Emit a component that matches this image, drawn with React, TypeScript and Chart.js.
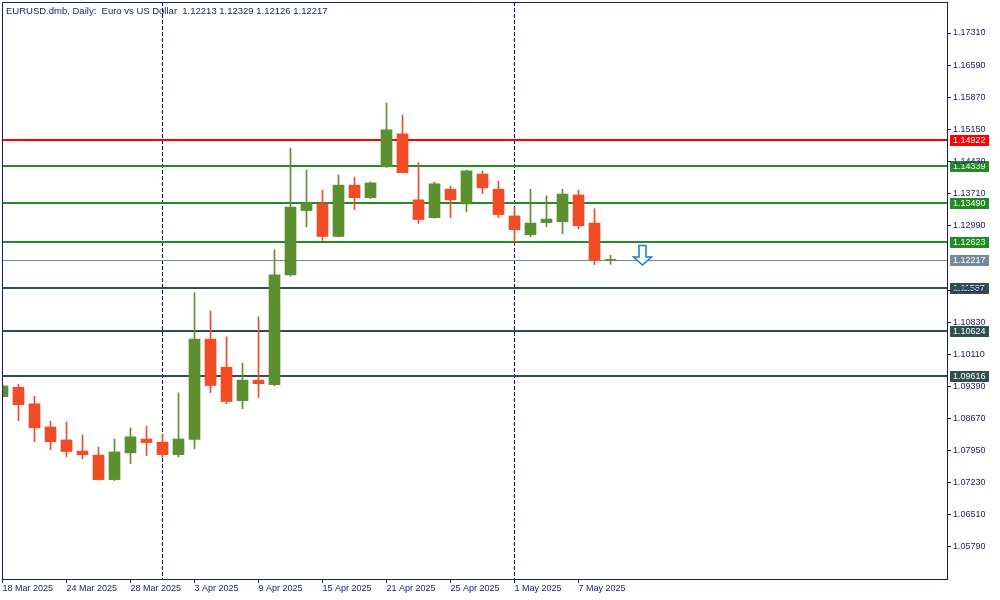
import React, { useEffect, useRef } from 'react';
import { Chart, registerables } from 'chart.js';

Chart.register(...registerables);

// ---- data ----
const titleText = 'EURUSD.dmb, Daily:  Euro vs US Dollar  1.12213 1.12329 1.12126 1.12217';

const dateLabels = ['18 Mar 2025', '24 Mar 2025', '28 Mar 2025', '3 Apr 2025', '9 Apr 2025', '15 Apr 2025', '21 Apr 2025', '25 Apr 2025', '1 May 2025', '7 May 2025'];
const dateLabelIndex = [0, 4, 8, 12, 16, 20, 24, 28, 32, 36];

const opens = [1.0916, 1.0937, 1.0900, 1.0848, 1.0819, 1.0794, 1.0785, 1.0730, 1.0790, 1.0821, 1.0814, 1.0786, 1.0820, 1.1045, 1.0982, 1.0907, 1.0953, 1.0943, 1.1189, 1.1333, 1.1348, 1.1275, 1.1390, 1.1362, 1.1431, 1.1505, 1.1357, 1.1317, 1.1381, 1.1348, 1.1415, 1.1381, 1.1321, 1.1279, 1.1306, 1.1308, 1.1368, 1.1305, 1.12213];
const highs = [1.0942, 1.0944, 1.0917, 1.0861, 1.0859, 1.0830, 1.0803, 1.0821, 1.0846, 1.0850, 1.0832, 1.0924, 1.1149, 1.1108, 1.1050, 1.0991, 1.1095, 1.1245, 1.1473, 1.1424, 1.1379, 1.1413, 1.1408, 1.1397, 1.1574, 1.1547, 1.1440, 1.1397, 1.1388, 1.1424, 1.1422, 1.1399, 1.1341, 1.1381, 1.1366, 1.1381, 1.1379, 1.1337, 1.12329];
const lows = [1.0914, 1.0862, 1.0815, 1.0797, 1.0781, 1.0777, 1.0729, 1.0728, 1.0766, 1.0784, 1.0780, 1.0781, 1.0799, 1.0925, 1.0900, 1.0889, 1.0914, 1.0940, 1.1186, 1.1297, 1.1266, 1.1274, 1.1335, 1.1360, 1.1430, 1.1417, 1.1304, 1.1316, 1.1317, 1.1330, 1.1371, 1.1317, 1.1263, 1.1274, 1.1297, 1.1281, 1.1292, 1.1212, 1.12126];
const closes = [1.0940, 1.0898, 1.0846, 1.0815, 1.0793, 1.0786, 1.0730, 1.0792, 1.0826, 1.0813, 1.0786, 1.0821, 1.1045, 1.0941, 1.0905, 1.0953, 1.0945, 1.1189, 1.1341, 1.1350, 1.1275, 1.1390, 1.1362, 1.1395, 1.1514, 1.1418, 1.1313, 1.1393, 1.1357, 1.1422, 1.1384, 1.1324, 1.1290, 1.1305, 1.1314, 1.1370, 1.1299, 1.1222, 1.12217];

const yTickValues = [1.05790, 1.06510, 1.07230, 1.07950, 1.08670, 1.09390, 1.10110, 1.10830, 1.11550, 1.12990, 1.13710, 1.14430, 1.15150, 1.15870, 1.16590, 1.17310];

const levelPrices = [1.14922, 1.14339, 1.13490, 1.12623, 1.12217, 1.11587, 1.10624, 1.09616];
const levelColors = ['#FF0000', '#228B22', '#228B22', '#228B22', '#778899', '#2F4F4F', '#2F4F4F', '#2F4F4F'];
const levelWidths = [2, 2, 2, 2, 1, 2, 2, 2];

const separatorIndex = [10, 32];
const arrowIndex = 40;
const arrowPrice = 1.1256;

// ---- styling ----
const NAVY = '#191970';
const UP = '#5B8F30';
const DOWN = '#F24C27';
const FONT = 'Liberation Sans';
const X_MIN = -0.03125;
const X_MAX = 59.03125;
const Y_MIN = 1.050728;
const Y_MAX = 1.180048;

const candleColors = opens.map((o, i) => (closes[i] >= o ? UP : DOWN));
const bodyData = opens.map((o, i) => ({ x: i, y: [Math.min(o, closes[i]), Math.max(o, closes[i])] }));
const wickData = highs.map((h, i) => ({ x: i, y: [lows[i], h] }));

const overlayPlugin = {
  id: 'mtOverlay',
  beforeDraw(chart: any) {
    const { ctx, chartArea, scales } = chart;
    const y = scales.y;
    ctx.save();
    ctx.font = `9px "${FONT}"`;
    ctx.textBaseline = 'middle';
    ctx.textAlign = 'left';
    levelPrices.forEach((p, i) => {
      const py = Math.round(y.getPixelForValue(p));
      ctx.fillStyle = levelColors[i];
      ctx.fillRect(chartArea.right + 3, py - 5, 39, 11);
      ctx.fillStyle = '#FFFFFF';
      ctx.fillText(p.toFixed(5), chartArea.right + 6, py + 0.5);
    });
    ctx.restore();
  },
  beforeDatasetsDraw(chart: any) {
    const { ctx, chartArea, scales } = chart;
    const x = scales.x;
    const y = scales.y;
    ctx.save();
    ctx.beginPath();
    ctx.rect(chartArea.left, chartArea.top, chartArea.right - chartArea.left, chartArea.bottom - chartArea.top);
    ctx.clip();
    // period separators
    ctx.strokeStyle = '#000080';
    ctx.lineWidth = 1;
    ctx.setLineDash([4, 2]);
    separatorIndex.forEach((idx) => {
      const px = x.getPixelForValue(idx);
      ctx.beginPath();
      ctx.moveTo(px, chartArea.top);
      ctx.lineTo(px, chartArea.bottom);
      ctx.stroke();
    });
    ctx.setLineDash([]);
    // horizontal levels
    levelPrices.forEach((p, i) => {
      const w = levelWidths[i];
      let py = Math.round(y.getPixelForValue(p));
      if (w % 2 === 1) py += 0.5;
      ctx.strokeStyle = levelColors[i];
      ctx.lineWidth = w;
      ctx.beginPath();
      ctx.moveTo(chartArea.left, py);
      ctx.lineTo(chartArea.right, py);
      ctx.stroke();
    });
    ctx.restore();
  },
  afterDraw(chart: any) {
    const { ctx, chartArea, scales } = chart;
    const x = scales.x;
    const y = scales.y;
    ctx.save();
    // frame left & top
    ctx.strokeStyle = NAVY;
    ctx.lineWidth = 1;
    ctx.beginPath();
    ctx.moveTo(chartArea.left + 0.5, chartArea.bottom);
    ctx.lineTo(chartArea.left + 0.5, chartArea.top + 0.5);
    ctx.lineTo(chartArea.right, chartArea.top + 0.5);
    ctx.stroke();
    // arrow
    const ax = x.getPixelForValue(arrowIndex);
    const at = Math.round(y.getPixelForValue(arrowPrice)) + 0.5;
    ctx.beginPath();
    ctx.moveTo(ax - 3.5, at);
    ctx.lineTo(ax + 3.5, at);
    ctx.lineTo(ax + 3.5, at + 11.5);
    ctx.lineTo(ax + 9, at + 11.5);
    ctx.lineTo(ax, at + 19.5);
    ctx.lineTo(ax - 9, at + 11.5);
    ctx.lineTo(ax - 3.5, at + 11.5);
    ctx.closePath();
    ctx.fillStyle = '#FFFFFF';
    ctx.fill();
    ctx.strokeStyle = '#1E78D2';
    ctx.lineWidth = 1.5;
    ctx.stroke();
    // title
    ctx.fillStyle = NAVY;
    ctx.font = `9.5px "${FONT}"`;
    ctx.textBaseline = 'alphabetic';
    ctx.textAlign = 'left';
    ctx.fillText(titleText, 6, 14);
    ctx.restore();
  },
};

export default function App() {
  const ref = useRef<HTMLCanvasElement>(null);
  useEffect(() => {
    document.body.style.margin = '0';
    const chart = new Chart(ref.current as HTMLCanvasElement, {
      type: 'bar',
      data: {
        datasets: [
          {
            label: 'body',
            data: bodyData as any,
            backgroundColor: candleColors,
            barThickness: 11,
            grouped: false,
            minBarLength: 1,
            borderWidth: 0,
            clip: 0,
            order: 1,
          } as any,
          {
            label: 'wick',
            data: wickData as any,
            backgroundColor: candleColors,
            barThickness: 1,
            grouped: false,
            borderWidth: 0,
            clip: 0,
            order: 2,
          } as any,
        ],
      },
      options: {
        animation: false,
        responsive: false,
        maintainAspectRatio: false,
        layout: { padding: { left: 2, top: 2, right: 0, bottom: 0 } },
        plugins: { legend: { display: false }, tooltip: { enabled: false } },
        scales: {
          x: {
            type: 'linear',
            min: X_MIN,
            max: X_MAX,
            offset: false,
            grid: { offset: false, drawOnChartArea: false, drawTicks: true, tickLength: 4, color: NAVY, lineWidth: 1 },
            border: { display: true, color: NAVY, width: 1 },
            ticks: {
              font: { family: FONT, size: 9 },
              color: NAVY,
              align: 'start',
              maxRotation: 0,
              minRotation: 0,
              autoSkip: false,
              padding: 0,
              callback: (v: any) => {
                const k = dateLabelIndex.indexOf(Number(v));
                return k >= 0 ? dateLabels[k] : '';
              },
            },
            afterBuildTicks: (s: any) => {
              s.ticks = dateLabelIndex.map((v) => ({ value: v }));
            },
            afterFit: (s: any) => {
              s.height = 21;
              s.paddingLeft = 0;
              s.paddingRight = 0;
            },
          } as any,
          y: {
            type: 'linear',
            position: 'right',
            min: Y_MIN,
            max: Y_MAX,
            grid: { drawOnChartArea: false, drawTicks: true, tickLength: 4, color: NAVY, lineWidth: 1 },
            border: { display: true, color: NAVY, width: 1 },
            ticks: {
              font: { family: FONT, size: 9 },
              color: NAVY,
              autoSkip: false,
              padding: 2,
              callback: (v: any) => Number(v).toFixed(5),
            },
            afterBuildTicks: (s: any) => {
              s.ticks = yTickValues.map((v) => ({ value: v }));
            },
            afterFit: (s: any) => {
              s.width = 53;
              s.paddingTop = 0;
              s.paddingBottom = 0;
            },
          } as any,
        },
      },
      plugins: [overlayPlugin],
    });
    return () => chart.destroy();
  }, []);
  return (
    <div style={{ width: 1000, height: 600, background: '#FFFFFF' }}>
      <canvas ref={ref} width={1000} height={600} style={{ display: 'block', width: 1000, height: 600 }} />
    </div>
  );
}
